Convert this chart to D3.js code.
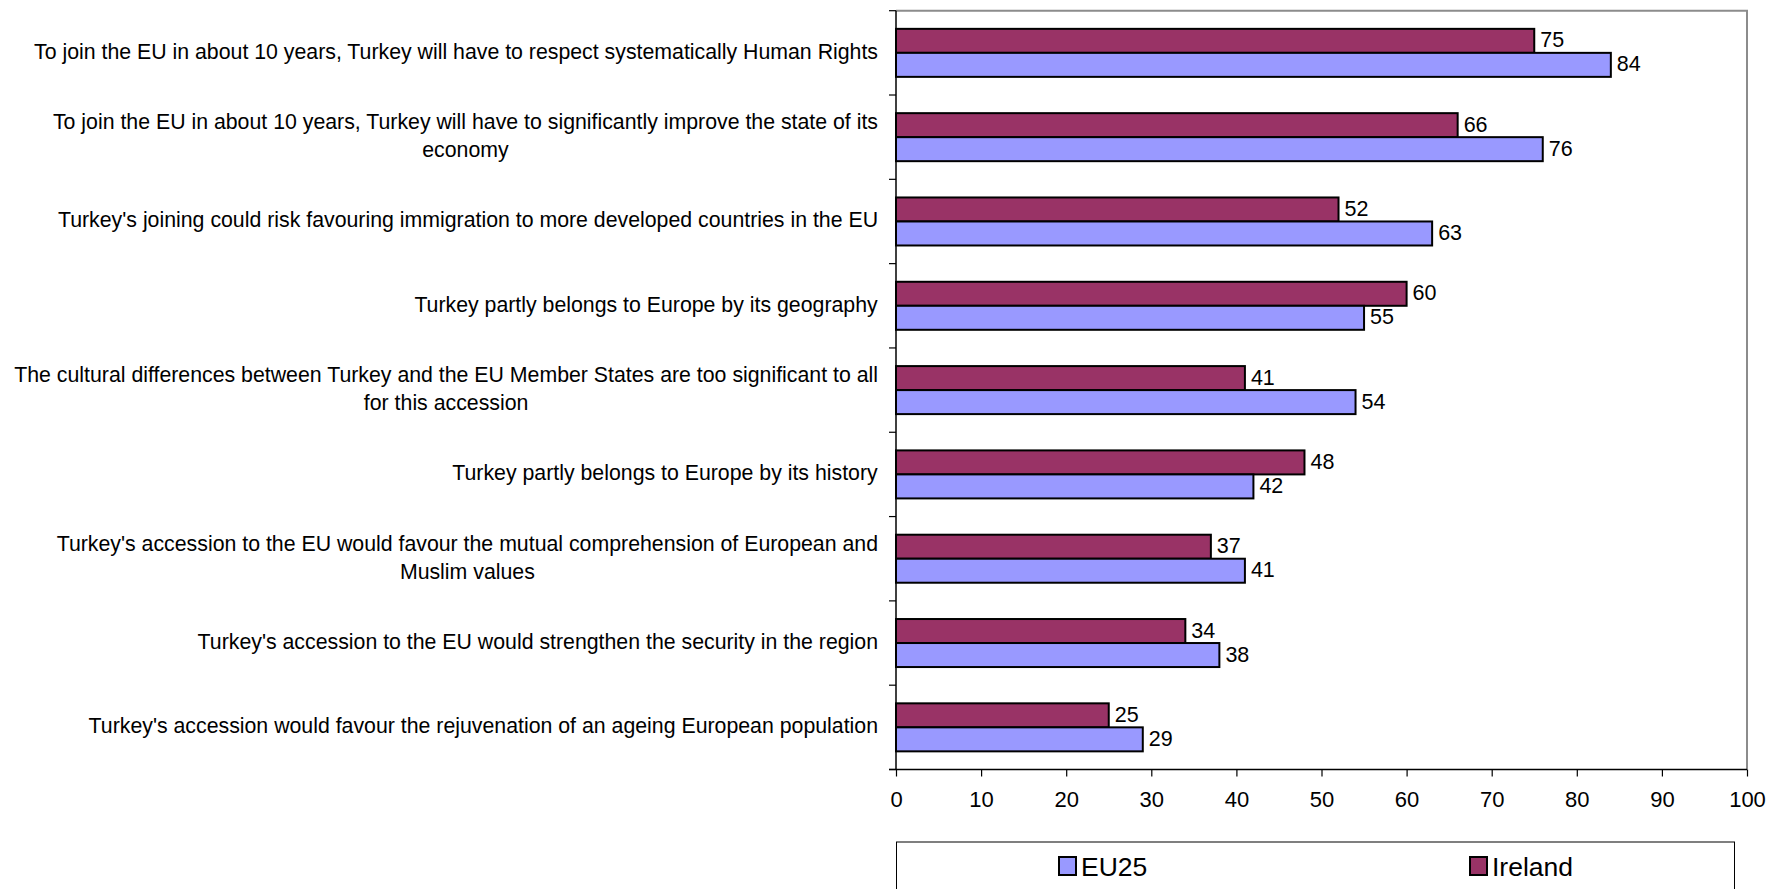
<!DOCTYPE html>
<html>
<head>
<meta charset="utf-8">
<script src="https://cdnjs.cloudflare.com/ajax/libs/d3/7.8.5/d3.min.js"></script>
<style>
  html, body { margin: 0; padding: 0; background: #fff; }
  svg { display: block; font-family: Arial, "Liberation Sans", sans-serif; }
</style>
</head>
<body>
<svg id="chart" width="1769" height="889"></svg>
<script>
// ---- Data ----
const categories = [
  "To join the EU in about 10 years, Turkey will have to respect systematically Human Rights",
  "To join the EU in about 10 years, Turkey will have to significantly improve the state of its\neconomy",
  "Turkey's joining could risk favouring immigration to more developed countries in the EU",
  "Turkey partly belongs to Europe by its geography",
  "The cultural differences between Turkey and the EU Member States are too significant to all\nfor this accession",
  "Turkey partly belongs to Europe by its history",
  "Turkey's accession to the EU would favour the mutual comprehension of European and\nMuslim values",
  "Turkey's accession to the EU would strengthen the security in the region",
  "Turkey's accession would favour the rejuvenation of an ageing European population"
];
const seriesNames = ["Ireland", "EU25"];
const irelandValues = [75, 66, 52, 60, 41, 48, 37, 34, 25];
const eu25Values = [84, 76, 63, 55, 54, 42, 41, 38, 29];
const xTicks = [0, 10, 20, 30, 40, 50, 60, 70, 80, 90, 100];
const legendOrder = ["EU25", "Ireland"];

// ---- Layout ----
const svg = d3.select("#chart");
const plotLeft = 896, plotRight = 1747, plotTop = 10.7, plotBottom = 769.5;
const colors = { "Ireland": "#993366", "EU25": "#9999FF" };
const valuesBySeries = { "Ireland": irelandValues, "EU25": eu25Values };

const x = d3.scaleLinear().domain([0, 100]).range([plotLeft, plotRight]);
const y = d3.scaleBand().domain(categories).range([plotTop, plotBottom]).paddingInner(0).paddingOuter(0);
const ySub = d3.scaleBand().domain(seriesNames).range([0, y.bandwidth()]).paddingInner(0).paddingOuter(0.756);

svg.append("rect").attr("width", 1769).attr("height", 889).attr("fill", "#fff");

// plot border (top & right grey)
svg.append("path")
  .attr("d", `M${plotLeft},${plotTop} H${plotRight} V${plotBottom}`)
  .attr("fill", "none").attr("stroke", "#8c8c8c").attr("stroke-width", 2);

// bars
const rows = categories.map((c, i) => ({ cat: c, i }));
const groups = svg.append("g").selectAll("g").data(rows).join("g")
  .attr("transform", d => `translate(0,${y(d.cat)})`);

seriesNames.forEach(s => {
  groups.append("rect")
    .attr("x", x(0))
    .attr("y", ySub(s))
    .attr("width", d => x(valuesBySeries[s][d.i]) - x(0))
    .attr("height", ySub.bandwidth())
    .attr("fill", colors[s])
    .attr("stroke", "#000")
    .attr("stroke-width", 2);
  groups.append("text")
    .attr("x", d => x(valuesBySeries[s][d.i]) + 6)
    .attr("y", ySub(s) + ySub.bandwidth() / 2 - 0.5)
    .attr("dominant-baseline", "central")
    .attr("font-size", 21.5)
    .attr("fill", "#000")
    .text(d => valuesBySeries[s][d.i]);
});

// category labels
const lineH = 28.4;
const labelRight = 878;
rows.forEach(d => {
  const lines = d.cat.split("\n");
  const cy = y(d.cat) + y.bandwidth() / 2 - 1;
  const g = svg.append("g");
  const t = g.append("text").attr("text-anchor", "middle").attr("font-size", 21.3).attr("fill", "#000");
  lines.forEach((ln, k) => {
    t.append("tspan").attr("x", 0)
      .attr("y", cy + (k - (lines.length - 1) / 2) * lineH)
      .attr("dominant-baseline", "central")
      .text(ln);
  });
  const bb = t.node().getBBox();
  g.attr("transform", `translate(${labelRight - (bb.x + bb.width)},0)`);
});

// y axis line and ticks
const yAxis = svg.append("g");
yAxis.append("line").attr("x1", plotLeft).attr("x2", plotLeft).attr("y1", plotTop).attr("y2", plotBottom)
  .attr("stroke", "#000").attr("stroke-width", 1.5);
const boundaries = categories.map(c => y(c)).concat([plotBottom]);
yAxis.selectAll("line.tk").data(boundaries).join("line").attr("class", "tk")
  .attr("x1", plotLeft - 7).attr("x2", plotLeft).attr("y1", d => d).attr("y2", d => d)
  .attr("stroke", "#000").attr("stroke-width", 1.2);

// x axis
const xAxis = svg.append("g").attr("transform", `translate(0,${plotBottom})`)
  .call(d3.axisBottom(x).tickValues(xTicks).tickSize(7).tickPadding(15).tickFormat(d3.format("d")));
xAxis.select(".domain").attr("stroke", "#000").attr("stroke-width", 1.5)
  .attr("d", `M${plotLeft - 7},0H${plotRight}`);
xAxis.selectAll(".tick line").attr("stroke", "#000").attr("stroke-width", 1.2);
xAxis.selectAll(".tick text").attr("font-size", 22).attr("font-family", "Arial, 'Liberation Sans', sans-serif").attr("fill", "#000");

// legend
const legend = svg.append("g");
legend.append("rect").attr("x", 896.5).attr("y", 842).attr("width", 838).attr("height", 80)
  .attr("fill", "#fff").attr("stroke", "#000").attr("stroke-width", 1);
const legendX = { "EU25": 1059, "Ireland": 1470 };
legendOrder.forEach(s => {
  legend.append("rect").attr("x", legendX[s]).attr("y", 857).attr("width", 17).attr("height", 18)
    .attr("fill", colors[s]).attr("stroke", "#000").attr("stroke-width", 2);
  legend.append("text").attr("x", legendX[s] + 22).attr("y", 876)
    .attr("font-size", 26.5).attr("fill", "#000").text(s);
});
</script>
</body>
</html>
